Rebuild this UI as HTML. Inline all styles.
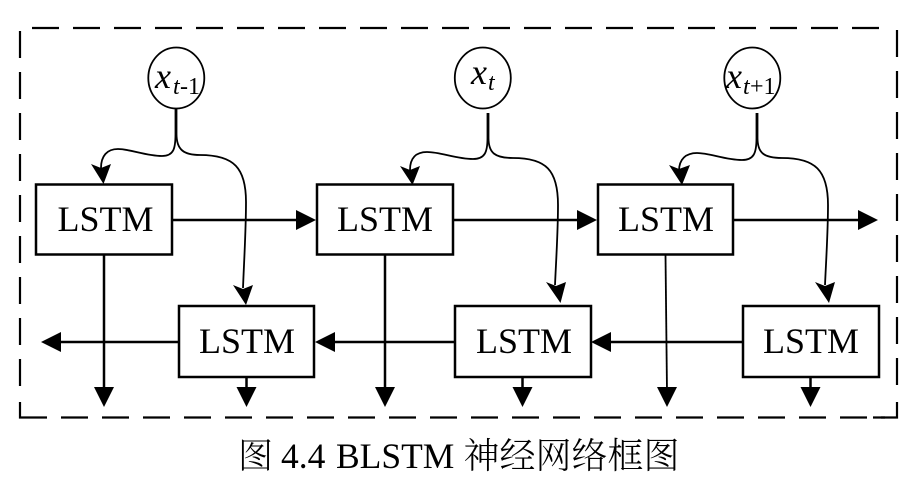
<!DOCTYPE html>
<html><head><meta charset="utf-8"><style>
html,body{margin:0;padding:0;background:#fff;width:920px;height:483px;overflow:hidden}
svg{display:block}
text{font-family:"Liberation Serif","Noto Serif CJK SC",serif;fill:#000}
.l{font-size:36px}
.i{font-style:italic}
.b{fill:#fff;stroke:#000;stroke-width:2.5}
.w{fill:none;stroke:#000;stroke-width:2.5}
.c{fill:none;stroke:#000;stroke-width:1.8}
.d{fill:none;stroke:#000;stroke-width:2.2;stroke-dasharray:27 14}
</style></head><body>
<svg width="920" height="483" viewBox="0 0 920 483" xmlns="http://www.w3.org/2000/svg">
<path class="d" d="M32 28H886"/>
<path class="d" d="M20 31V388"/>
<path class="d" d="M897 30V388"/>
<path class="d" d="M61 417.5H885"/>
<path class="w" style="stroke-width:2.2" d="M20 402V417.5H47M897 402V417.5H873"/>

<path class="w" d="M172 220H300M453 220H582M733 220H862"/>
<path d="M296 210L316 220L296 230ZM577 210L597 220L577 230ZM858 210L878 220L858 230Z"/>

<path class="w" d="M179 342H58M455 342H331M743 342H608"/>
<path d="M61 332L41 342L61 352ZM335 332L315 342L335 352ZM611 332L591 342L611 352Z"/>

<path class="w" d="M104 255V392M385 255V392M246.500 377V392M522.500 377V392M810.500 377V392"/>
<path class="c" d="M665.500 255L667 392"/>
<path d="M94 387H114L104 407ZM375 387H395L385 407ZM657 387H677L667 407ZM236.500 387H256.500L246.500 407ZM512.500 387H532.500L522.500 407ZM800.500 387H820.500L810.500 407Z"/>

<path class="c" d="M175.500 108V134C175.500 148 174 156 162 156C146 156 130 149 118 149C107 149 101 156 101 168"/>
<path class="c" d="M176.500 108V134C176.500 150 184 155 200 155C234 155 246 168 246 202C246 230 244 262 243 288"/>
<path d="M91 164L101 168L111 164L103.500 184Z"/>
<path d="M233 285L243 289L253 285L246 305Z"/>

<path class="c" d="M487.500 113V138C487.500 152 485 159 473 159C456 159 441 152 427 152C416 152 410 158 410 170"/>
<path class="c" d="M488.500 113V138C488.500 153 495 158 513 158C546 158 558 170 558 205C558 232 556 262 555 285"/>
<path d="M400 166L410 170L420 166L412.500 185Z"/>
<path d="M546 282L556 286L566 282L560.500 303Z"/>

<path class="c" d="M756.500 113V138C756.500 153 754 160 742 160C725 160 710 153 697 153C686 153 679 159 679 171"/>
<path class="c" d="M757.500 113V138C757.500 153 764 158 782 158C815 158 828 170 828 205C828 232 826 262 825 285"/>
<path d="M669 165L679 169L690 165L682 185Z"/>
<path d="M815 282L825 286L835 282L829 303Z"/>

<ellipse class="c" cx="176.300" cy="78" rx="28" ry="30.500"/>
<ellipse class="c" cx="482.800" cy="78" rx="28" ry="30.500"/>
<ellipse class="c" cx="752.300" cy="78" rx="28" ry="30.500"/>

<rect class="b" x="36" y="184.500" width="136" height="70"/>
<rect class="b" x="317" y="184.500" width="136" height="70"/>
<rect class="b" x="598" y="184.500" width="135" height="70"/>
<rect class="b" x="179" y="306" width="135" height="71"/>
<rect class="b" x="455" y="306" width="136" height="71"/>
<rect class="b" x="743" y="306" width="136" height="71"/>

<text class="l" x="57.500" y="231">LSTM</text>
<text class="l" x="337" y="231">LSTM</text>
<text class="l" x="618" y="231">LSTM</text>
<text class="l" x="199" y="353">LSTM</text>
<text class="l" x="476" y="353">LSTM</text>
<text class="l" x="763" y="353">LSTM</text>

<text class="i" x="155" y="88" font-size="36">x</text>
<text class="i" x="173" y="94" font-size="24">t</text>
<text x="180" y="94" font-size="24">-1</text>

<text class="i" x="471" y="84" font-size="36">x</text>
<text class="i" x="488" y="90" font-size="24">t</text>

<text class="i" x="726" y="88" font-size="36">x</text>
<text class="i" x="743" y="94" font-size="24">t</text>
<text x="750" y="94" font-size="24">+1</text>

<text font-size="35" x="238" y="468" font-weight="300">图</text>
<text font-size="35.500" x="281" y="468">4.4</text>
<text font-size="35.500" x="336" y="468">BLSTM</text>
<text font-size="36" x="463.500" y="468" font-weight="300">神经网络框图</text>
</svg>
</body></html>
